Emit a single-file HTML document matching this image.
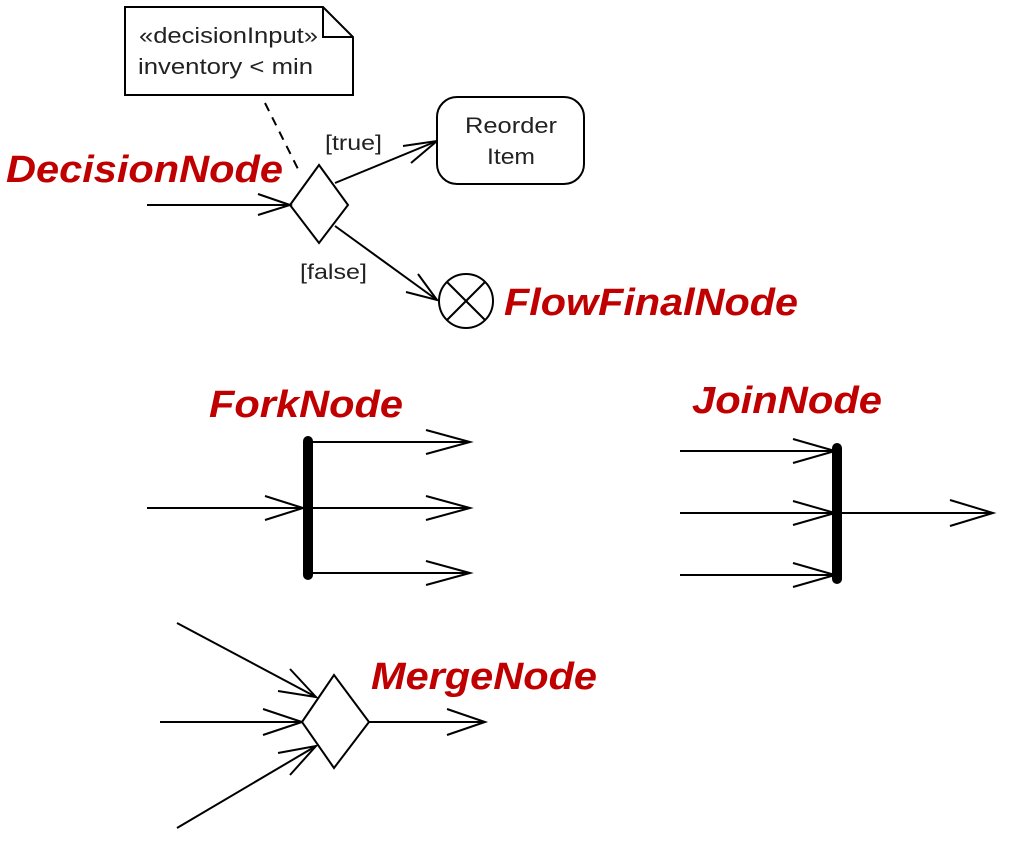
<!DOCTYPE html>
<html><head><meta charset="utf-8"><style>html,body{margin:0;padding:0;background:#fff}svg{display:block}</style></head><body>
<svg width="1014" height="844" viewBox="0 0 1014 844" xmlns="http://www.w3.org/2000/svg">
<g fill="none" stroke="#000" stroke-width="2">
<path d="M125,7 H323 L353,37 V95 H125 Z" fill="#fff"/>
<path d="M323,7 V37 H353"/>
<line x1="265" y1="103" x2="300" y2="173" stroke-dasharray="9,7"/>
<path d="M290,205 L319,165 L348,205 L319,243 Z" fill="#fff"/>
<line x1="147" y1="205" x2="290" y2="205"/>
<path d="M258,194 L290,205 L258,215"/>
<line x1="335" y1="183" x2="437" y2="141"/>
<path d="M403,146 L437,141 L411,163"/>
<line x1="335" y1="226" x2="437" y2="300"/>
<path d="M418,274 L437,300 L406,292"/>
<rect x="437" y="97" width="147" height="87" rx="20" fill="#fff"/>
<circle cx="466" cy="301" r="27" fill="#fff"/>
<line x1="447" y1="282" x2="485" y2="320"/><line x1="485" y1="282" x2="447" y2="320"/>
<line x1="147" y1="508" x2="305" y2="508"/>
<path d="M265,496 L303,508 L265,520"/>
<line x1="308" y1="442" x2="470" y2="442"/><path d="M426,430 L470,442 L426,454"/>
<line x1="308" y1="508" x2="470" y2="508"/><path d="M426,496 L470,508 L426,520"/>
<line x1="308" y1="573" x2="470" y2="573"/><path d="M426,561 L470,573 L426,585"/>
<line x1="308" y1="441" x2="308" y2="575" stroke-width="10" stroke-linecap="round"/>
<line x1="680" y1="451" x2="835" y2="451"/><path d="M793,439 L835,451 L793,463"/>
<line x1="680" y1="513" x2="835" y2="513"/><path d="M793,501 L835,513 L793,525"/>
<line x1="680" y1="575" x2="835" y2="575"/><path d="M793,563 L835,575 L793,587"/>
<line x1="837" y1="448" x2="837" y2="579" stroke-width="10" stroke-linecap="round"/>
<line x1="837" y1="513" x2="993" y2="513"/><path d="M950,500 L993,513 L950,526"/>
<line x1="177" y1="623" x2="316" y2="697"/><path d="M290,669 L316,697 L278,691"/>
<line x1="160" y1="722" x2="302" y2="722"/><path d="M263,709 L302,722 L263,735"/>
<line x1="177" y1="828" x2="316" y2="746"/><path d="M278,753 L316,746 L290,775"/>
<path d="M302,722 L334,675 L369,722 L334,768 Z" fill="#fff"/>
<line x1="369" y1="722" x2="485" y2="722"/><path d="M447,709 L485,722 L447,735"/>
</g>
<g font-family="Liberation Sans, sans-serif" fill="#222">
<text x="139" y="43" font-size="22" textLength="179" lengthAdjust="spacingAndGlyphs">«decisionInput»</text>
<text x="138" y="74" font-size="22" textLength="175" lengthAdjust="spacingAndGlyphs">inventory &lt; min</text>
<text x="465" y="133" font-size="22" textLength="92" lengthAdjust="spacingAndGlyphs">Reorder</text>
<text x="487" y="164" font-size="22" textLength="48" lengthAdjust="spacingAndGlyphs">Item</text>
<text x="325" y="150" font-size="21" textLength="57" lengthAdjust="spacingAndGlyphs">[true]</text>
<text x="300" y="279" font-size="21" textLength="67" lengthAdjust="spacingAndGlyphs">[false]</text>
</g>
<g font-family="Liberation Sans, sans-serif" font-weight="bold" font-style="italic" fill="#c00000" font-size="38">
<text x="6" y="182" textLength="277" lengthAdjust="spacingAndGlyphs">DecisionNode</text>
<text x="504" y="315" textLength="294" lengthAdjust="spacingAndGlyphs">FlowFinalNode</text>
<text x="209" y="417" textLength="194" lengthAdjust="spacingAndGlyphs">ForkNode</text>
<text x="692" y="413" textLength="190" lengthAdjust="spacingAndGlyphs">JoinNode</text>
<text x="371" y="689" textLength="226" lengthAdjust="spacingAndGlyphs">MergeNode</text>
</g>
</svg>
</body></html>
